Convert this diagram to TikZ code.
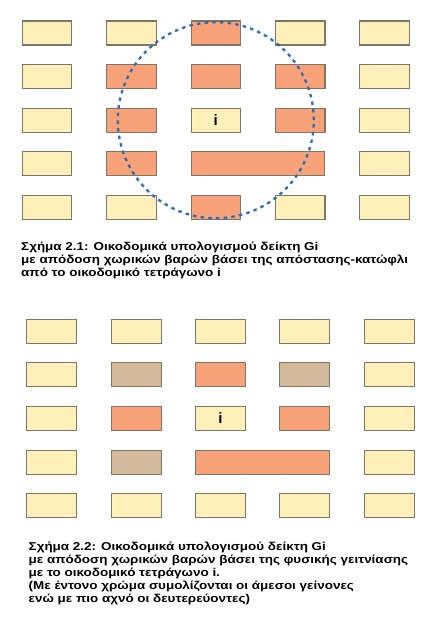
\documentclass[tikz,border=0pt]{standalone}
\usepackage{fontspec}
\setmainfont{Liberation Sans}
\usepackage{graphicx}
\usepackage{xcolor}
\usepackage{tikz}
\usetikzlibrary{calc}

\definecolor{pale}{RGB}{255,240,186}
\definecolor{hot}{RGB}{248,162,122}
\definecolor{warm}{RGB}{210,186,154}
\definecolor{blkedge}{RGB}{125,118,100}
\definecolor{ring}{RGB}{48,108,178}
\newcommand\wideline[1]{\scalebox{1.18}[1]{#1}}

\begin{document}
\begin{tikzpicture}[x=1pt, y=-1pt,
    blk/.style={draw=blkedge, line width=1.1pt, minimum width=49.5pt, minimum height=24pt, inner sep=0pt},
    lbl/.style={font=\bfseries\fontsize{15}{15}\selectfont},
    captxt/.style={anchor=north west, align=left, inner sep=0pt, font=\bfseries\fontsize{11.4}{12.9}\selectfont}]
  \useasboundingbox (0,0) rectangle (437,629);

  % Sxhma 2.1: threshold distance
  \foreach \r/\row in {1/{1/pale,2/pale,3/hot,4/pale,5/pale},
                       2/{1/pale,2/hot,3/hot,4/hot,5/pale},
                       3/{1/pale,2/hot,3/pale,4/hot,5/pale},
                       4/{1/pale,2/hot,5/pale},
                       5/{1/pale,2/pale,3/hot,4/pale,5/pale}}
    \foreach \c/\f in \row
      \node[blk, fill=\f] (a\c\r) at ({47+84.4*(\c-1)},{33+43.6*(\r-1)}) {};
  \node[blk, fill=hot, minimum width=133.7pt] (a34) at ({47+84.4*2.5},{33+43.6*3}) {};
  \node[lbl] (ia) at (a33) {i};
  \draw[ring, line width=2.3pt, dash pattern=on 3.5pt off 4.2pt] (a33) circle (98pt);

  \node[captxt] (capa) at (21,242.2) {\wideline{Σχήμα 2.1: Οικοδομικά υπολογισμού δείκτη Gi}\\
    \wideline{με απόδοση χωρικών βαρών βάσει της απόστασης-κατώφλι}\\
    \wideline{από το οικοδομικό τετράγωνο i}};

  % Sxhma 2.2: physical contiguity
  \foreach \r/\row in {1/{1/pale,2/pale,3/pale,4/pale,5/pale},
                       2/{1/pale,2/warm,3/hot,4/warm,5/pale},
                       3/{1/pale,2/hot,3/pale,4/hot,5/pale},
                       4/{1/pale,2/warm,5/pale},
                       5/{1/pale,2/pale,3/pale,4/pale,5/pale}}
    \foreach \c/\f in \row
      \node[blk, fill=\f, minimum width=50pt] (b\c\r) at ({51.7+84.4*(\c-1)},{331.2+43.65*(\r-1)}) {};
  \node[blk, fill=hot, minimum width=134.3pt] (b34) at ({51.7+84.4*2.5},{331.2+43.65*3}) {};
  \node[lbl] (ib) at (b33) {i};

  \node[captxt] (capb) at (28.5,541.9) {\wideline{Σχήμα 2.2: Οικοδομικά υπολογισμού δείκτη Gi}\\
    \wideline{με απόδοση χωρικών βαρών βάσει της φυσικής γειτνίασης}\\
    \wideline{με το οικοδομικό τετράγωνο i.}\\
    \wideline{(Με έντονο χρώμα συμολίζονται οι άμεσοι γείνονες}\\
    \wideline{ενώ με πιο αχνό οι δευτερεύοντες)}};
\end{tikzpicture}
\end{document}
